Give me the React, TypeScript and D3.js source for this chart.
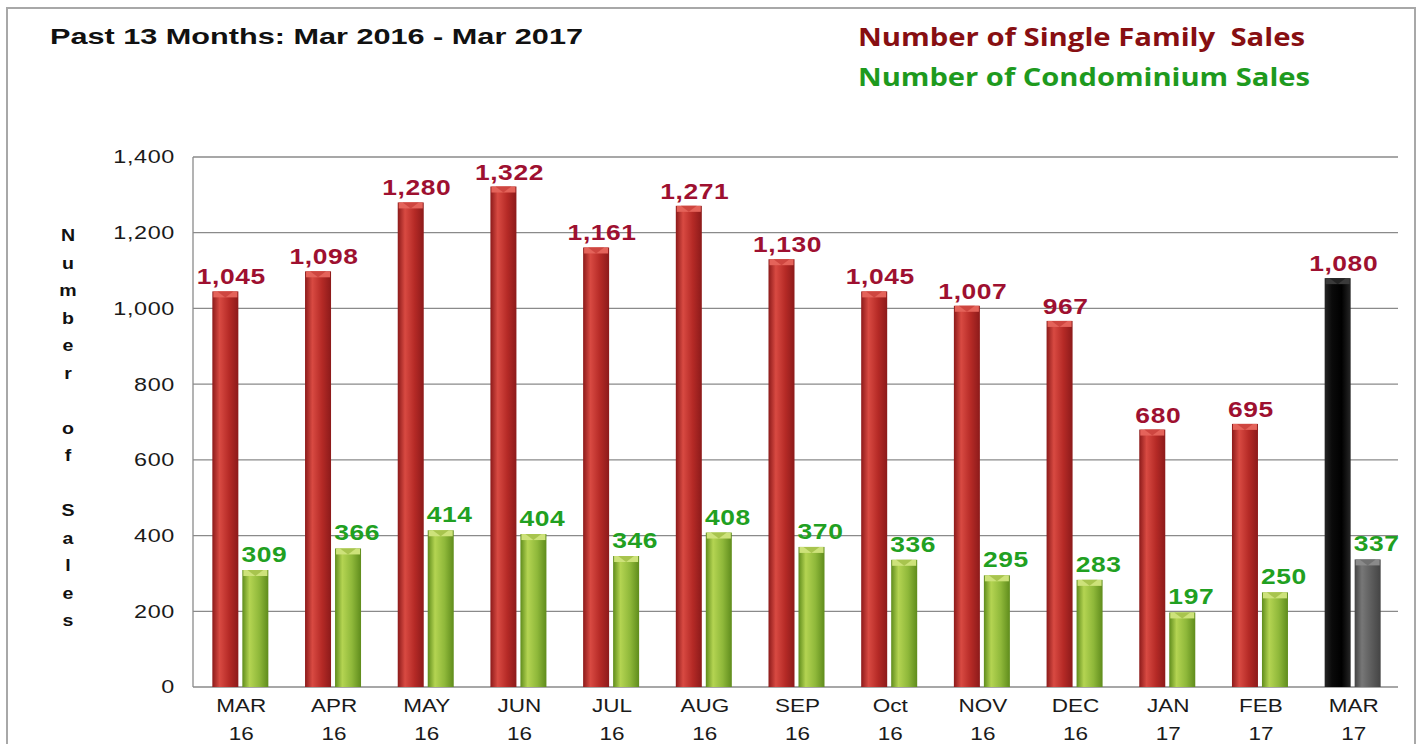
import React from "react";
import * as d3 from "d3";

const months = ["MAR", "APR", "MAY", "JUN", "JUL", "AUG", "SEP", "Oct", "NOV", "DEC", "JAN", "FEB", "MAR"];
const years = ["16", "16", "16", "16", "16", "16", "16", "16", "16", "16", "17", "17", "17"];
const singleFamily = [1045, 1098, 1280, 1322, 1161, 1271, 1130, 1045, 1007, 967, 680, 695, 1080];
const condo = [309, 366, 414, 404, 346, 408, 370, 336, 295, 283, 197, 250, 337];
const yTicks = [0, 200, 400, 600, 800, 1000, 1200, 1400];
const yLabelLetters = ["N", "u", "m", "b", "e", "r", "", "o", "f", "", "S", "a", "l", "e", "s"];

const W = 1420;
const H = 744;
const plot = { left: 193, right: 1398, top: 157, bottom: 687 };

function SText(props: {
  x: number;
  y: number;
  sx: number;
  anchor: string;
  size: number;
  weight?: string;
  fill: string;
  dy?: string;
  ls?: number;
  children: React.ReactNode;
}) {
  return (
    <g transform={`translate(${props.x},${props.y}) scale(${props.sx},1)`}>
      <text
        x={0}
        y={0}
        dy={props.dy}
        textAnchor={props.anchor}
        fontSize={props.size}
        fontWeight={props.weight || "normal"}
        fill={props.fill}
        letterSpacing={props.ls || 0}
      >
        {props.children}
      </text>
    </g>
  );
}

export default function App() {
  const x = d3
    .scaleBand<number>()
    .domain(d3.range(months.length))
    .range([plot.left, plot.right])
    .paddingInner(0)
    .paddingOuter(0);
  const y = d3.scaleLinear().domain([0, 1400]).range([plot.bottom, plot.top]);
  const fmt = d3.format(",");
  const barW = 26;
  const gap = 4;
  const last = months.length - 1;

  const bar = (cx: number, v: number, kind: string, key: string) => {
    const top = y(v);
    const h = plot.bottom - top;
    const caps: Record<string, [string, string]> = {
      red: ["#e4635a", "#c43a34"],
      green: ["#cde27a", "#98b83c"],
      black: ["#3a3a3a", "#1a1a1a"],
      gray: ["#8a8a8a", "#666666"],
    };
    const [capLight, capDark] = caps[kind];
    return (
      <g key={key}>
        <rect x={cx} y={top} width={barW} height={h} fill={`url(#grad-${kind})`} />
        <rect x={cx + 1} y={top} width={barW - 2} height={6} fill={capLight} />
        <path
          d={`M${cx + 5},${top} L${cx + barW - 5},${top} L${cx + barW / 2},${top + 6} Z`}
          fill={capDark}
          opacity={0.7}
        />
      </g>
    );
  };

  const grads: [string, string, string, string][] = [
    ["red", "#8c1a1a", "#d84a42", "#b52a26"],
    ["green", "#5f8c1c", "#b4d452", "#8fb83a"],
    ["black", "#262626", "#0a0a0a", "#000000"],
    ["gray", "#444444", "#777777", "#5c5c5c"],
  ];

  return (
    <svg
      width={W}
      height={H}
      style={{ position: "absolute", left: 0, top: 0, background: "#ffffff" }}
      fontFamily="Arial, 'Liberation Sans', sans-serif"
    >
      <defs>
        {grads.map(([k, edge, light, mid]) => (
          <linearGradient key={k} id={`grad-${k}`} x1="0" x2="1" y1="0" y2="0">
            <stop offset="0%" stopColor={edge} />
            <stop offset="28%" stopColor={light} />
            <stop offset="65%" stopColor={mid} />
            <stop offset="100%" stopColor={edge} />
          </linearGradient>
        ))}
      </defs>

      <rect x={0} y={0} width={W} height={H} fill="#ffffff" />
      <path d={`M7,${H + 5} L7,8 L1415,8 L1415,${H + 5}`} fill="none" stroke="#a8a8a8" strokeWidth={2} />

      {/* Title */}
      <text x={50} y={44} fontSize={22} fontWeight="bold" fill="#111" textLength={533} lengthAdjust="spacingAndGlyphs">
        Past 13 Months: Mar 2016 - Mar 2017
      </text>

      {/* Legend */}
      <text
        x={858}
        y={46}
        fontSize={25}
        fontWeight="bold"
        fill="#870f12"
        fontFamily="'Open Sans', 'Noto Sans', sans-serif"
        textLength={447}
        lengthAdjust="spacingAndGlyphs"
        style={{ whiteSpace: "pre" }}
      >
        {"Number of Single Family  Sales"}
      </text>
      <text
        x={858}
        y={86}
        fontSize={25}
        fontWeight="bold"
        fill="#1e9a1e"
        fontFamily="'Open Sans', 'Noto Sans', sans-serif"
        textLength={452}
        lengthAdjust="spacingAndGlyphs"
      >
        Number of Condominium Sales
      </text>

      {/* Gridlines */}
      {yTicks.map((t) => (
        <line key={`g${t}`} x1={plot.left} x2={plot.right} y1={y(t)} y2={y(t)} stroke="#8a8a8a" strokeWidth={1.3} />
      ))}
      <line x1={plot.left} x2={plot.left} y1={plot.top} y2={plot.bottom} stroke="#8a8a8a" strokeWidth={1.3} />

      {/* Y tick labels */}
      {yTicks.map((t) => (
        <SText key={`t${t}`} x={175} y={y(t)} sx={1.3} dy="0.36em" anchor="end" size={18} fill="#1a1a1a" ls={0.5}>
          {fmt(t)}
        </SText>
      ))}

      {/* Y axis title, stacked letters */}
      {yLabelLetters.map((ch, i) => (
        <SText key={`yl${i}`} x={68} y={235 + i * 27.5} sx={1.15} dy="0.36em" anchor="middle" size={17} weight="bold" fill="#111">
          {ch}
        </SText>
      ))}

      {/* Bars */}
      {months.map((_, i) => {
        const bx = (x(i) as number) + x.bandwidth() / 2 + 1;
        const rx = bx - gap / 2 - barW;
        const gx = bx + gap / 2;
        const isLast = i === last;
        return (
          <g key={`b${i}`}>
            {bar(rx, singleFamily[i], isLast ? "black" : "red", `r${i}`)}
            {bar(gx, condo[i], isLast ? "gray" : "green", `c${i}`)}
          </g>
        );
      })}

      {/* Value labels */}
      {months.map((_, i) => {
        const bx = (x(i) as number) + x.bandwidth() / 2 + 1;
        const rc = bx - gap / 2 - barW / 2 + 6;
        const gc = bx + gap / 2 + barW / 2 + 9;
        return (
          <g key={`v${i}`}>
            <SText x={rc} y={y(singleFamily[i]) - 7} sx={1.2} anchor="middle" size={22} weight="bold" fill="#9e1030" ls={0.5}>
              {fmt(singleFamily[i])}
            </SText>
            <SText x={gc} y={y(condo[i]) - 8} sx={1.2} anchor="middle" size={22} weight="bold" fill="#21a021" ls={0.5}>
              {fmt(condo[i])}
            </SText>
          </g>
        );
      })}

      {/* X labels */}
      {months.map((m, i) => {
        const cx = (x(i) as number) + x.bandwidth() / 2 + 2;
        return (
          <g key={`x${i}`}>
            <SText x={cx} y={712} sx={1.25} anchor="middle" size={18} fill="#1a1a1a">
              {m}
            </SText>
            <SText x={cx} y={740} sx={1.25} anchor="middle" size={18} fill="#1a1a1a">
              {years[i]}
            </SText>
          </g>
        );
      })}
    </svg>
  );
}
